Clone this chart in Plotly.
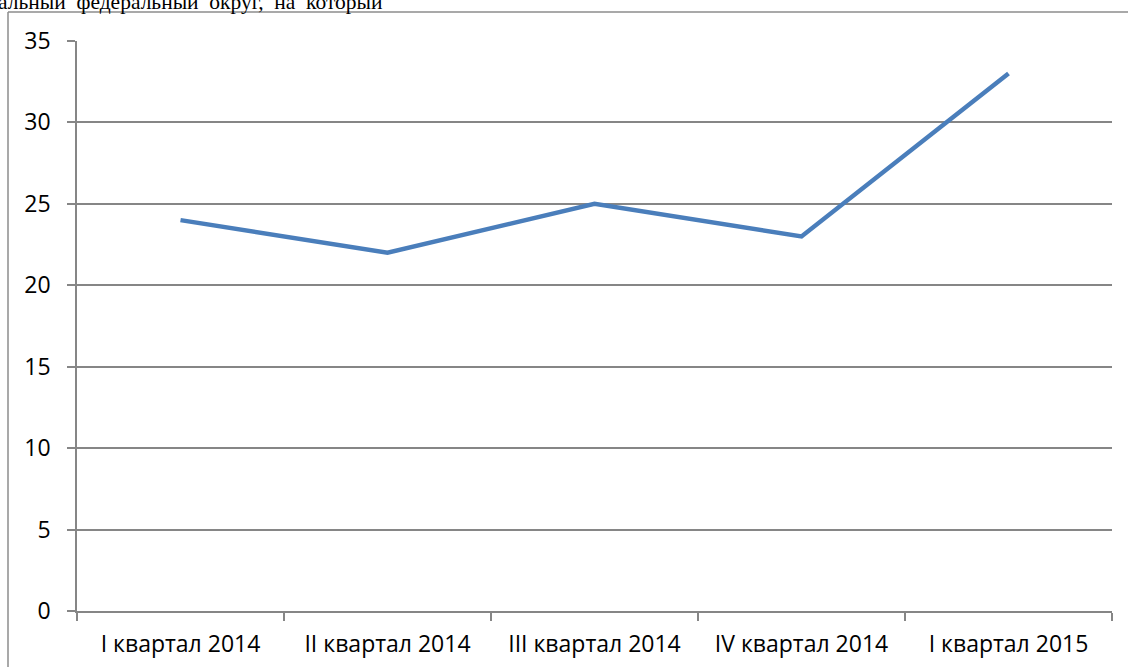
import plotly.graph_objects as go

categories = ["I квартал 2014", "II квартал 2014", "III квартал 2014", "IV квартал 2014", "I квартал 2015"]
values = [24, 22, 25, 23, 33]
y_ticks = [0, 5, 10, 15, 20, 25, 30, 35]
doc_text = "альный\u00a0\u00a0федеральный\u00a0\u00a0округ,\u00a0\u00a0на\u00a0\u00a0который"

W, H = 1128, 667
L, R, T, B = 77, 16, 41, 56
pw, ph = W - L - R, H - T - B

def px_x(p):
    return (p - L) / pw

def px_y(p):
    return (H - B - p) / ph

grid = "#868686"
tick_font = dict(family="Open Sans", size=23, color="#000")

fig = go.Figure()
fig.add_trace(go.Scatter(
    x=categories, y=values, mode="lines",
    line=dict(color="#4A7EBB", width=4.5),
    hoverinfo="skip", showlegend=False,
))

fig.update_layout(
    width=W, height=H, autosize=False,
    margin=dict(l=L, r=R, t=T, b=B, pad=0),
    paper_bgcolor="white", plot_bgcolor="white",
    font=dict(family="Open Sans", size=23, color="#000000"),
    xaxis=dict(
        type="category", tickson="boundaries", showgrid=False,
        showline=True, linecolor=grid, linewidth=1.5,
        ticks="outside", ticklen=8, tickcolor=grid, tickwidth=1.5,
        range=[-0.5, 4.5], ticklabelstandoff=12, automargin=False,
        tickfont=tick_font,
    ),
    yaxis=dict(
        range=[0, 35], tickvals=y_ticks, showgrid=True, gridcolor=grid, gridwidth=1.5,
        showline=True, linecolor=grid, linewidth=1.5, zeroline=False,
        ticks="outside", ticklen=8, tickcolor=grid, tickwidth=1.5,
        ticklabelstandoff=12, automargin=False,
        tickfont=tick_font,
    ),
    shapes=[
        dict(type="line", xref="paper", yref="paper",
             x0=px_x(8), x1=px_x(8), y0=px_y(12), y1=px_y(680),
             line=dict(color="#8c8c8c", width=1.5)),
        dict(type="line", xref="paper", yref="paper",
             x0=px_x(8), x1=px_x(1140), y0=px_y(12), y1=px_y(12),
             line=dict(color="#8c8c8c", width=1.5)),
    ],
    annotations=[
        dict(text=doc_text, xref="paper", yref="paper", x=px_x(-4), y=px_y(16),
             xanchor="left", yanchor="bottom", showarrow=False,
             font=dict(family="Liberation Serif", size=21.5, color="#000")),
    ],
)

fig.write_html("out.html", config={"displayModeBar": False},
               post_script="document.body.style.margin='0';")
